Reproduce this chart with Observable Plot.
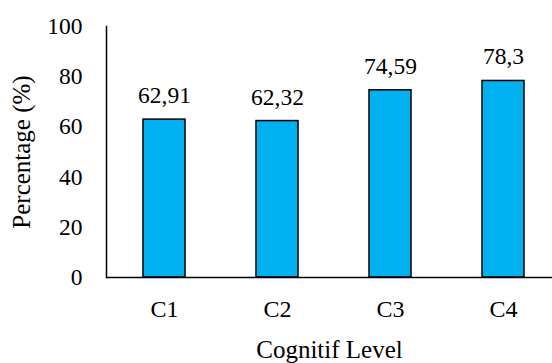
<!DOCTYPE html>
<html>
<head>
<meta charset="utf-8">
<script src="https://cdn.jsdelivr.net/npm/d3@7"></script>
<script src="https://cdn.jsdelivr.net/npm/@observablehq/plot@0.6"></script>
<style>
  html, body { margin: 0; padding: 0; background: #fff; }
  #chart svg { display: block; }
  #chart svg, #chart svg text, #chart svg g { font-family: "Liberation Serif", "Times New Roman", serif !important; }
</style>
</head>
<body>
<div id="chart"></div>
<script>
// Percentage per cognitive level
const levels = ["C1", "C2", "C3", "C4"];
const percentages = [62.91, 62.32, 74.59, 78.3];
const yTicks = [0, 20, 40, 60, 80, 100];

const rows = levels.map((level, i) => ({ level, value: percentages[i] }));
const fmt = v => String(v).replace(".", ",");
const serif = "'Liberation Serif', 'Times New Roman', serif";

const chart = Plot.plot({
  width: 552,
  height: 363,
  marginLeft: 106,
  marginRight: 0,
  marginTop: 26,
  marginBottom: 86,
  style: { fontFamily: serif, fontSize: "24px", color: "#000", background: "#fff" },
  x: { domain: levels, range: [106, 561], paddingInner: 0.63, paddingOuter: 0.315 },
  y: { domain: [0, 100] },
  marks: [
    Plot.barY(rows, { x: "level", y: "value", fill: "#00B0F0", stroke: "#000", strokeWidth: 1.5 }),
    Plot.text(rows, { x: "level", y: "value", text: d => fmt(d.value), dy: -24, fontSize: 23.5, fontFamily: serif, fill: "#000" }),
    Plot.axisX({ tickSize: 0, tickPadding: 22, fontSize: 24, fontFamily: serif, tickFormat: d => d, label: null }),
    Plot.axisX({ ticks: [], tickSize: 0, fontSize: 25, fontFamily: serif, label: "Cognitif Level", labelAnchor: "center", labelOffset: 80, labelArrow: "none" }),
    Plot.axisY({ ticks: yTicks, tickSize: 0, tickPadding: 24, fontSize: 23.5, fontFamily: serif, label: null }),
    Plot.axisY({ ticks: [], tickSize: 0, fontSize: 25, fontFamily: serif, label: "Percentage (%)", labelAnchor: "center", labelOffset: 94, labelArrow: "none" }),
    Plot.ruleY([0], { stroke: "#000", strokeWidth: 1.5 }),
    Plot.frame({ anchor: "left", stroke: "#000", strokeWidth: 1.5 })
  ]
});

document.getElementById("chart").appendChild(chart);
</script>
</body>
</html>
